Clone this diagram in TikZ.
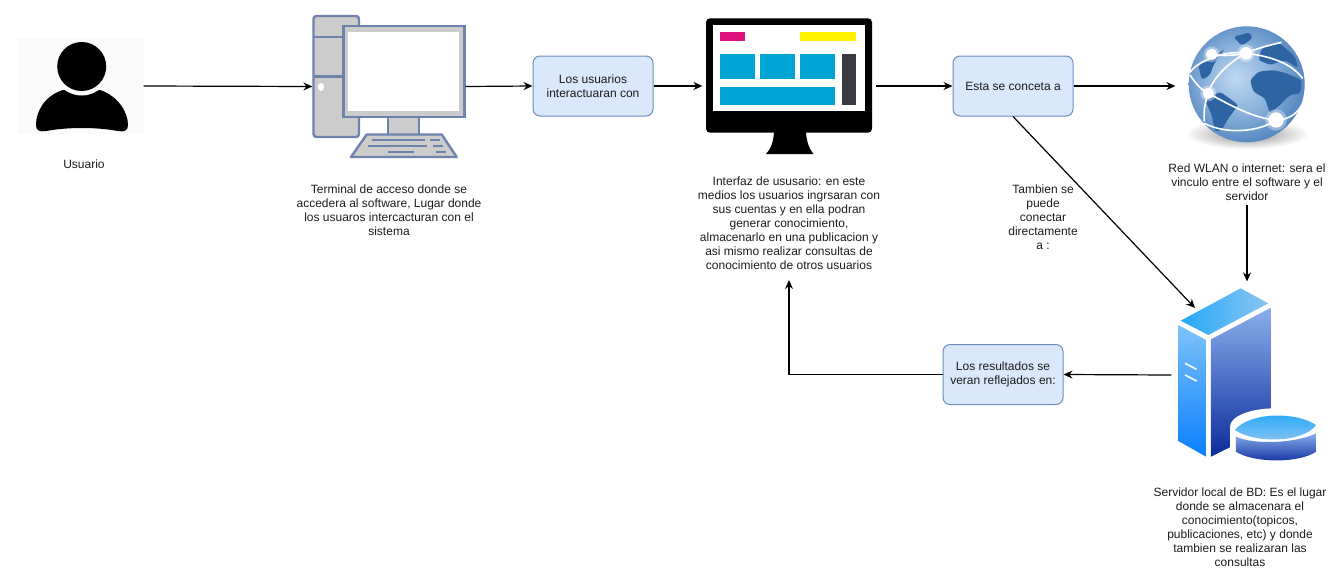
\documentclass[tikz,border=0pt]{standalone}
\usepackage{fontspec}
\setmainfont{Liberation Sans}
\usetikzlibrary{arrows.meta}
\definecolor{boxfill}{HTML}{DAE8FC}
\definecolor{boxline}{HTML}{6C8EBF}
\definecolor{pcline}{HTML}{6D83AE}
\definecolor{pcgray}{HTML}{CCCCCC}
\definecolor{uibar}{HTML}{00A4D3}
\definecolor{uidark}{HTML}{3A3A40}
\definecolor{uipink}{HTML}{E0147F}
\definecolor{uiyellow}{HTML}{FFF200}
\definecolor{landblue}{HTML}{2F64A4}
\definecolor{textgray}{HTML}{1C1C1C}
\definecolor{globea}{HTML}{BFD8F0}
\definecolor{globeb}{HTML}{8DB4DC}
\definecolor{globec}{HTML}{4A7DBB}
\definecolor{globed}{HTML}{2A5292}
\definecolor{globee}{HTML}{1C2F68}
\definecolor{srva}{HTML}{23A9F7}
\definecolor{srvb}{HTML}{8CC4F2}
\definecolor{srvc}{HTML}{7DC3F8}
\definecolor{srvd}{HTML}{0A7FFF}
\definecolor{srve}{HTML}{8AAEEC}
\definecolor{srvf}{HTML}{0B2C9C}
\pgfdeclareradialshading{globeshade}{\pgfpoint{-5bp}{3bp}}{%
  color(0bp)=(globea);
  color(14bp)=(globeb);
  color(30bp)=(globec);
  color(44bp)=(globed);
  color(50bp)=(globee)}
\tikzset{
  >={Stealth[length=9pt,width=8pt,inset=3pt]},
  box/.style={draw=boxline,fill=boxfill,rounded corners=7pt,minimum width=120pt,minimum height=60pt,align=center,inner sep=0pt,font=\fontsize{12}{14}\selectfont,text=textgray},
  icon/.style={inner sep=0pt},
  caption/.style={align=center,inner xsep=0pt,inner ysep=4pt,font=\fontsize{12}{14}\selectfont,text=textgray},
  pcpart/.style={draw=pcline,fill=pcgray,line width=2.4pt},
  pckey/.style={draw=pcline,line width=2.4pt},
  net/.style={draw=white,line width=1.6pt},
  land/.style={fill=landblue,rounded corners=3pt}
}
\begin{document}
\begin{tikzpicture}[x=1pt,y=-1pt,line width=1.2pt]
    \useasboundingbox (0,0) rectangle (1333,568);

    \node[icon,minimum width=124pt,minimum height=94pt] (usuario) at (81,86){};
    \node[icon,minimum width=152pt,minimum height=141pt] (terminal) at (389,86.5){};
    \node[box,line width=1pt] (interactuan) at (593,86){Los usuarios\\interactuaran con};
    \node[icon,minimum width=172pt,minimum height=136pt] (interfaz) at (789,86){};
    \node[box,line width=1pt] (conecta) at (1013,86){Esta se conceta a};
    \node[icon,minimum width=142pt,minimum height=130pt] (globo) at (1247,86){};
    \node[icon,minimum width=150pt,minimum height=186pt] (servidor) at (1247,375){};
    \node[box,line width=1pt] (resultados) at (1003,374.5){Los resultados se\\veran reflejados en:};
    \coordinate (servidorin) at (1195,308);

    \node[caption] (usuariotxt) at (84,164){Usuario};
    \node[caption] (terminaltxt) at (389,210){Terminal de acceso donde se\\accedera al software, Lugar donde\\los usuaros intercacturan con el\\sistema};
    \node[caption,inner ysep=10pt] (interfaztxt) at (789,223){Interfaz de ususario: en este\\medios los usuarios ingrsaran con\\sus cuentas y en ella podran\\generar conocimiento,\\almacenarlo en una publicacion y\\asi mismo realizar consultas de\\conocimiento de otros usuarios};
    \node[caption] (tambientxt) at (1043,217){Tambien se\\puede\\conectar\\directamente\\a :};
    \node[caption] (globotxt) at (1247,182){Red WLAN o internet: sera el\\vinculo entre el software y el\\servidor};
    \node[caption] (servidortxt) at (1240,527){Servidor local de BD: Es el lugar\\donde se almacenara el\\conocimiento(topicos,\\publicaciones, etc) y donde\\tambien se realizaran las\\consultas};

    % usuario
    \fill[black!2] (usuario.north west) rectangle (usuario.south east);
    \fill (63,90) .. controls (44,96) and (36,112) .. (36,125) .. controls (36,131) and (40,132) .. (46,131) .. controls (68,127) and (96,127) .. (118,131) .. controls (124,132) and (128,131) .. (128,125) .. controls (128,112) and (118,96) .. (100,90) -- cycle;
    \fill[black!2] (81.7,66.5) circle (29);
    \fill (81.7,66.5) circle (24.5);

    % terminal
    \draw[pcpart,rounded corners=3pt] (313.5,16) rectangle (359,137);
    \draw[pckey] (313.5,36.7) -- (344,36.7) (313.5,76.3) -- (344,76.3);
    \fill[white] (321,87) ellipse (3 and 4);
    \draw[pcpart] (388,116) rectangle (419,135);
    \draw[pcpart] (343.5,26) rectangle (464.3,116.7);
    \fill[white] (348.3,32) rectangle (458.5,110.7);
    \draw[pcpart,line join=round] (366.7,134.5) -- (441.7,134.5) -- (456.7,157) -- (351,157) -- cycle;
    \foreach \xa/\xb/\yk in {371.7/425/140,430/440/140,368/426.7/146,433/443/146,387.7/414/152,435.7/446/152}
      \draw[pckey] (\xa,\yk) -- (\xb,\yk);

    % pantalla de la interfaz
    \fill (774,130) -- (806,130) .. controls (806,142) and (810,150) .. (813.5,154) -- (766,154) .. controls (770,150) and (774,142) .. (774,130) -- cycle;
    \fill[rounded corners=4pt] (706,18.3) rectangle (872,132.7);
    \fill[white] (712.7,25) rectangle (865.3,111);
    \fill[uipink] (720,32) rectangle (745,40.7);
    \fill[uiyellow] (800.3,32) rectangle (856,41);
    \foreach \xa in {720,760.3,800.3}
      \fill[uibar] (\xa,54.3) rectangle (\xa+35,79.3);
    \fill[uibar] (720,86.7) rectangle (835.3,105.3);
    \fill[uidark] (842.3,54) rectangle (856,105.3);

    % globo
    \shade[inner color=black!45,outer color=white,draw=none] (1247,134) ellipse (62 and 15);
    \shade[shading=globeshade] (1246.7,84.3) circle (58);
    \begin{scope}[shift={(1170,15)},x=0.3333pt,y=-0.3333pt]
      \fill[land] (240,195) -- (265,170) -- (310,165) -- (350,175) -- (395,195) -- (392,235) -- (360,240) -- (330,270) -- (300,295) -- (285,250) -- (250,230) -- cycle;
      \fill[land] (105,255) -- (150,230) -- (185,255) -- (205,270) -- (175,310) -- (155,345) -- (135,350) -- (125,300) -- cycle;
      \fill[land] (85,150) -- (125,135) -- (165,100) -- (130,150) -- (120,180) -- (95,195) -- cycle;
      \fill[land] (190,65) -- (240,52) -- (248,70) -- (215,92) -- cycle;
      \fill[land] (275,100) -- (330,85) -- (375,125) -- (385,160) -- (345,135) -- (300,150) -- (265,135) -- cycle;
      \draw[net] (60,172) .. controls (90,130) and (180,105) .. (228,115) .. controls (290,122) and (360,140) .. (398,190);
      \draw[net] (125,118) .. controls (160,125) and (200,120) .. (228,115) .. controls (260,100) and (300,90) .. (335,82);
      \draw[net] (228,115) .. controls (170,145) and (125,195) .. (115,235) .. controls (105,265) and (100,285) .. (103,320);
      \draw[net] (60,180) .. controls (80,210) and (95,225) .. (115,235) .. controls (180,270) and (250,310) .. (318,315) .. controls (350,315) and (380,300) .. (395,270);
      \draw[net] (103,325) .. controls (170,360) and (270,350) .. (318,315);
      \foreach \xa/\yk/\rk in {125/118/17,228/115/19,115/235/17,318/315/23} {
        \fill[white,opacity=.35] (\xa,\yk) circle (\rk*1.4);
        \fill[white] (\xa,\yk) circle (\rk);
      }
    \end{scope}

    % servidor
    \begin{scope}[shift={(930,280)},x=0.3333pt,y=-0.3333pt]
      \shade[left color=srva,right color=srvb] (932,25) -- (1015,70) -- (835,165) -- (752,122) -- cycle;
      \shade[top color=srvc,bottom color=srvd] (745,135) -- (828,180) -- (828,530) -- (745,483) -- cycle;
      \shade[top color=srve,bottom color=srvf] (843,178) -- (1023,83) -- (1023,440) -- (843,530) -- cycle;
      \draw[white,line width=1.5pt] (765,250) -- (800,268) (765,285) -- (800,303);
      \fill[white] (1035,440) ellipse (135 and 55);
      \fill[white] (900,440) rectangle (1170,500);
      \fill[white] (900,500) .. controls (950,545) and (1120,555) .. (1170,500) -- cycle;
      \shade[top color=srve,bottom color=srvf] (918,470) -- (918,515) .. controls (970,550) and (1110,550) .. (1158,515) -- (1158,460) .. controls (1100,490) and (970,495) .. (918,470) -- cycle;
      \shade[top color=srva,bottom color=srvb] (915,450) .. controls (960,395) and (1100,395) .. (1158,435) .. controls (1120,490) and (970,490) .. (915,450) -- cycle;
    \end{scope}

    % conexiones
    \draw (usuario.east) edge[->] (terminal.west);
    \draw (terminal.east) edge[->] (interactuan.west);
    \draw (interactuan.east) edge[->] (interfaz.west);
    \draw (interfaz.east) edge[->] (conecta.west);
    \draw (conecta.east) edge[->] (globo.west);
    \draw (conecta.south) edge[->] (servidorin);
    \draw (globotxt.south) edge[->] (servidor.north);
    \draw (servidor.west) edge[->] (resultados.east);
    \draw[->] (resultados.west) -| (interfaztxt.south);
  \end{tikzpicture}
\end{document}
